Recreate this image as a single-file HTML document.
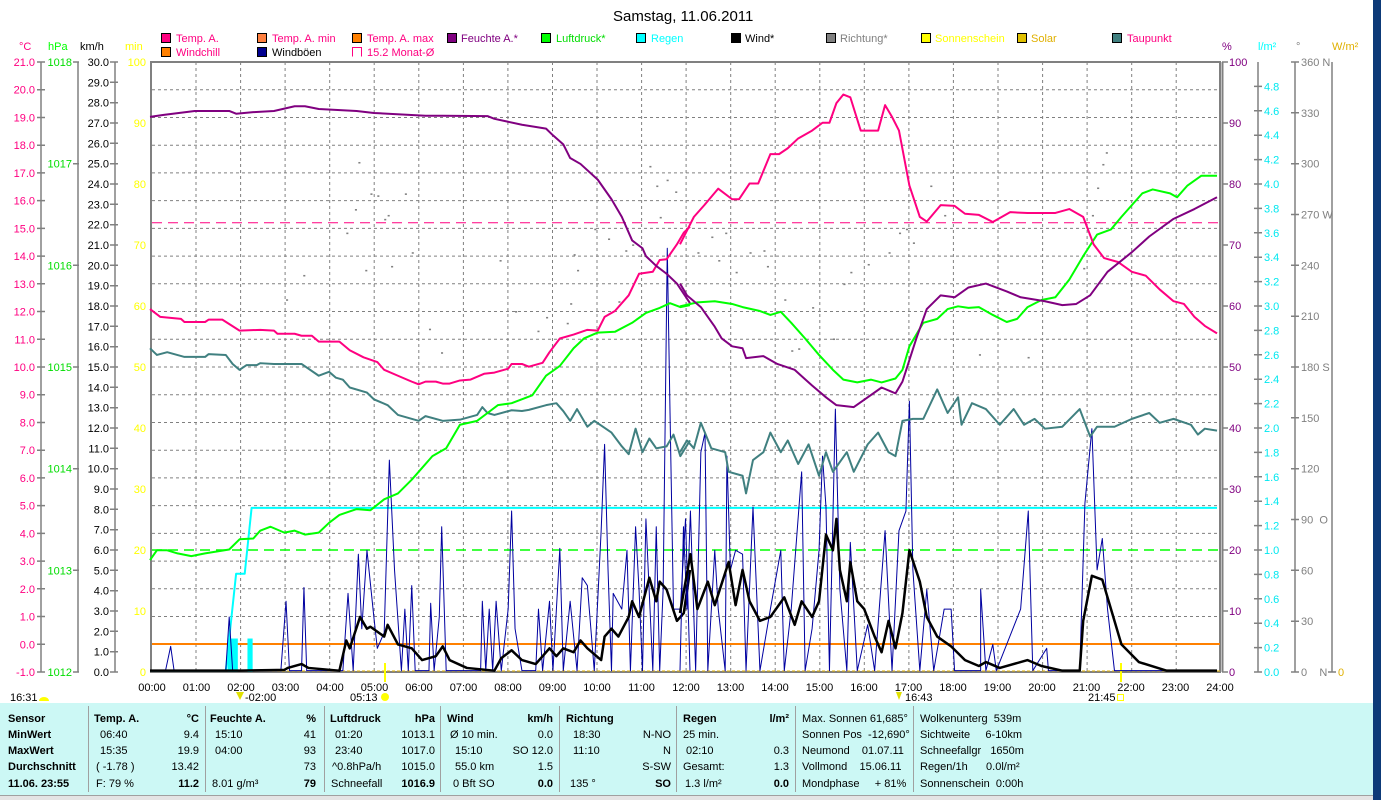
<!DOCTYPE html>
<html><head><meta charset="utf-8"><style>
html,body{margin:0;padding:0;background:#fff;}
svg{display:block;font-family:"Liberation Sans",sans-serif;}
</style></head><body>
<svg width="1381" height="800" viewBox="0 0 1381 800" xmlns="http://www.w3.org/2000/svg">
<rect x="0" y="0" width="1381" height="800" fill="#fff"/>
<rect x="1373" y="0" width="8" height="800" fill="#0d3a78"/>
<text x="613" y="21" font-size="15" fill="#000">Samstag, 11.06.2011</text>

<!-- legend -->
<g font-size="11">
<rect x="161.5" y="33.5" width="9" height="9" fill="#ff0080" stroke="#000"/><text x="176" y="42" fill="#ff0080">Temp. A.</text>
<rect x="257.5" y="33.5" width="9" height="9" fill="#ff8040" stroke="#000"/><text x="272" y="42" fill="#ff0080">Temp. A. min</text>
<rect x="352.5" y="33.5" width="9" height="9" fill="#ff8000" stroke="#000"/><text x="367" y="42" fill="#ff0080">Temp. A. max</text>
<rect x="447.5" y="33.5" width="9" height="9" fill="#800080" stroke="#000"/><text x="461" y="42" fill="#800080">Feuchte A.*</text>
<rect x="541.5" y="33.5" width="9" height="9" fill="#00ff00" stroke="#000"/><text x="556" y="42" fill="#00dd00">Luftdruck*</text>
<rect x="636.5" y="33.5" width="9" height="9" fill="#00ffff" stroke="#000"/><text x="651" y="42" fill="#00ffff">Regen</text>
<rect x="731.5" y="33.5" width="9" height="9" fill="#000" stroke="#000"/><text x="745" y="42" fill="#000">Wind*</text>
<rect x="826.5" y="33.5" width="9" height="9" fill="#808080" stroke="#000"/><text x="840" y="42" fill="#808080">Richtung*</text>
<rect x="921.5" y="33.5" width="9" height="9" fill="#ffff00" stroke="#000"/><text x="935" y="42" fill="#ffff00">Sonnenschein</text>
<rect x="1017.5" y="33.5" width="9" height="9" fill="#e0c000" stroke="#000"/><text x="1031" y="42" fill="#e0b000">Solar</text>
<rect x="1112.5" y="33.5" width="9" height="9" fill="#408080" stroke="#000"/><text x="1127" y="42" fill="#ff0080">Taupunkt</text>
<rect x="161.5" y="47.5" width="9" height="9" fill="#ff8000" stroke="#000"/><text x="176" y="56" fill="#ff0080">Windchill</text>
<rect x="257.5" y="47.5" width="9" height="9" fill="#000090" stroke="#000"/><text x="272" y="56" fill="#000">Windböen</text>
<path d="M352.5 56.5 V47.5 H361.5 V56.5" fill="none" stroke="#ff0080"/><text x="367" y="56" fill="#ff0080">15.2 Monat-Ø</text>
</g>

<!-- axis headers -->
<g font-size="11">
<text x="19" y="50" fill="#ff0080">°C</text>
<text x="48" y="50" fill="#00ff00">hPa</text>
<text x="80" y="50" fill="#000">km/h</text>
<text x="125" y="50" fill="#ffff00">min</text>
<text x="1222" y="50" fill="#800080">%</text>
<text x="1258" y="50" fill="#00ffff">l/m²</text>
<text x="1296" y="50" fill="#808080">°</text>
<text x="1332" y="50" fill="#e0b000">W/m²</text>
</g>

<!-- grid -->
<g stroke="#808080" stroke-width="1" stroke-dasharray="3,3">
<path d="M152 89.7H1220M152 117.5H1220M152 145.2H1220M152 172.9H1220M152 200.6H1220M152 228.4H1220M152 256.1H1220M152 283.8H1220M152 311.5H1220M152 339.3H1220M152 367H1220M152 394.7H1220M152 422.5H1220M152 450.2H1220M152 477.9H1220M152 505.6H1220M152 533.4H1220M152 561.1H1220M152 588.8H1220M152 616.5H1220M152 644.3H1220"/>
<path d="M196 62V672M240.6 62V672M285.1 62V672M329.7 62V672M374.2 62V672M418.8 62V672M463.4 62V672M507.9 62V672M552.5 62V672M597 62V672M641.6 62V672M686.1 62V672M730.7 62V672M775.2 62V672M819.8 62V672M864.3 62V672M908.9 62V672M953.4 62V672M998 62V672M1042.6 62V672M1087.1 62V672M1131.7 62V672M1176.2 62V672"/>
</g>
<!-- plot border -->
<rect x="151" y="62" width="1069" height="610" fill="none" stroke="#808080" stroke-width="2"/>
<line x1="1222.5" y1="62" x2="1222.5" y2="672" stroke="#808080" stroke-width="2"/>

<!-- reference lines -->
<line x1="152" y1="222.8" x2="1220" y2="222.8" stroke="#ff0080" stroke-dasharray="10,6"/>
<line x1="152" y1="550" x2="1220" y2="550" stroke="#00ff00" stroke-width="1.5" stroke-dasharray="10,6"/>
<line x1="152" y1="644" x2="1220" y2="644" stroke="#ff8000" stroke-width="2"/>
<line x1="152" y1="671" x2="1220" y2="671" stroke="#e0b000" stroke-width="1" stroke-dasharray="3,2"/>

<!-- left axes -->
<g stroke="#808080" stroke-width="1.5" fill="none">
<path d="M41 62V672M78 62V672M115 62V672"/>
<path d="M37 62H45M37 89.7H45M37 117.5H45M37 145.2H45M37 172.9H45M37 200.6H45M37 228.4H45M37 256.1H45M37 283.8H45M37 311.5H45M37 339.3H45M37 367H45M37 394.7H45M37 422.5H45M37 450.2H45M37 477.9H45M37 505.6H45M37 533.4H45M37 561.1H45M37 588.8H45M37 616.5H45M37 644.3H45M37 672H45"/>
<path d="M73 62H79M73 163.7H79M73 265.3H79M73 367H79M73 468.7H79M73 570.3H79M73 672H79"/>
<path d="M110 62H118M110 82.3H118M110 102.7H118M110 123H118M110 143.3H118M110 163.7H118M110 184H118M110 204.3H118M110 224.7H118M110 245H118M110 265.3H118M110 285.7H118M110 306H118M110 326.3H118M110 346.7H118M110 367H118M110 387.3H118M110 407.7H118M110 428H118M110 448.3H118M110 468.7H118M110 489H118M110 509.3H118M110 529.7H118M110 550H118M110 570.3H118M110 590.7H118M110 611H118M110 631.3H118M110 651.7H118M110 672H118"/>
</g>
<g font-size="11" fill="#ff0080" text-anchor="end">
<text x="35" y="66">21.0</text><text x="35" y="93.7">20.0</text><text x="35" y="121.5">19.0</text><text x="35" y="149.2">18.0</text><text x="35" y="176.9">17.0</text><text x="35" y="204.6">16.0</text><text x="35" y="232.4">15.0</text><text x="35" y="260.1">14.0</text><text x="35" y="287.8">13.0</text><text x="35" y="315.5">12.0</text><text x="35" y="343.3">11.0</text><text x="35" y="371">10.0</text><text x="35" y="398.7">9.0</text><text x="35" y="426.5">8.0</text><text x="35" y="454.2">7.0</text><text x="35" y="481.9">6.0</text><text x="35" y="509.6">5.0</text><text x="35" y="537.4">4.0</text><text x="35" y="565.1">3.0</text><text x="35" y="592.8">2.0</text><text x="35" y="620.5">1.0</text><text x="35" y="648.3">0.0</text><text x="35" y="676">-1.0</text>
</g>
<g font-size="11" fill="#00dd00" text-anchor="end">
<text x="72" y="66">1018</text><text x="72" y="167.7">1017</text><text x="72" y="269.3">1016</text><text x="72" y="371">1015</text><text x="72" y="472.7">1014</text><text x="72" y="574.3">1013</text><text x="72" y="676">1012</text>
</g>
<g font-size="11" fill="#000" text-anchor="end">
<text x="109" y="66">30.0</text><text x="109" y="86.3">29.0</text><text x="109" y="106.7">28.0</text><text x="109" y="127">27.0</text><text x="109" y="147.3">26.0</text><text x="109" y="167.7">25.0</text><text x="109" y="188">24.0</text><text x="109" y="208.3">23.0</text><text x="109" y="228.7">22.0</text><text x="109" y="249">21.0</text><text x="109" y="269.3">20.0</text><text x="109" y="289.7">19.0</text><text x="109" y="310">18.0</text><text x="109" y="330.3">17.0</text><text x="109" y="350.7">16.0</text><text x="109" y="371">15.0</text><text x="109" y="391.3">14.0</text><text x="109" y="411.7">13.0</text><text x="109" y="432">12.0</text><text x="109" y="452.3">11.0</text><text x="109" y="472.7">10.0</text><text x="109" y="493">9.0</text><text x="109" y="513.3">8.0</text><text x="109" y="533.7">7.0</text><text x="109" y="554">6.0</text><text x="109" y="574.3">5.0</text><text x="109" y="594.7">4.0</text><text x="109" y="615">3.0</text><text x="109" y="635.3">2.0</text><text x="109" y="655.7">1.0</text><text x="109" y="676">0.0</text>
</g>
<g font-size="11" fill="#ffff00" text-anchor="end">
<text x="146" y="66">100</text><text x="146" y="127">90</text><text x="146" y="188">80</text><text x="146" y="249">70</text><text x="146" y="310">60</text><text x="146" y="371">50</text><text x="146" y="432">40</text><text x="146" y="493">30</text><text x="146" y="554">20</text><text x="146" y="615">10</text><text x="146" y="676">0</text>
</g>

<!-- right axes -->
<g stroke="#808080" stroke-width="1.5" fill="none">
<path d="M1222 62H1228M1222 123H1228M1222 184H1228M1222 245H1228M1222 306H1228M1222 367H1228M1222 428H1228M1222 489H1228M1222 550H1228M1222 611H1228M1222 672H1228"/>
<path d="M1258 62V672M1295 62V672M1332 62V672"/>
<path d="M1254 86.4H1262M1254 110.8H1262M1254 135.2H1262M1254 159.6H1262M1254 184H1262M1254 208.4H1262M1254 232.8H1262M1254 257.2H1262M1254 281.6H1262M1254 306H1262M1254 330.4H1262M1254 354.8H1262M1254 379.2H1262M1254 403.6H1262M1254 428H1262M1254 452.4H1262M1254 476.8H1262M1254 501.2H1262M1254 525.6H1262M1254 550H1262M1254 574.4H1262M1254 598.8H1262M1254 623.2H1262M1254 647.6H1262M1254 672H1262"/>
<path d="M1291 62H1299M1291 112.8H1299M1291 163.7H1299M1291 214.5H1299M1291 265.3H1299M1291 316.2H1299M1291 367H1299M1291 417.8H1299M1291 468.7H1299M1291 519.5H1299M1291 570.3H1299M1291 621.2H1299M1291 672H1299"/>
<path d="M1328 672H1336"/>
</g>
<g font-size="11" fill="#800080">
<text x="1229" y="66">100</text><text x="1229" y="127">90</text><text x="1229" y="188">80</text><text x="1229" y="249">70</text><text x="1229" y="310">60</text><text x="1229" y="371">50</text><text x="1229" y="432">40</text><text x="1229" y="493">30</text><text x="1229" y="554">20</text><text x="1229" y="615">10</text><text x="1229" y="676">0</text>
</g>
<g font-size="11" fill="#00e8f0">
<text x="1264" y="90.4">4.8</text><text x="1264" y="114.8">4.6</text><text x="1264" y="139.2">4.4</text><text x="1264" y="163.6">4.2</text><text x="1264" y="188">4.0</text><text x="1264" y="212.4">3.8</text><text x="1264" y="236.8">3.6</text><text x="1264" y="261.2">3.4</text><text x="1264" y="285.6">3.2</text><text x="1264" y="310">3.0</text><text x="1264" y="334.4">2.8</text><text x="1264" y="358.8">2.6</text><text x="1264" y="383.2">2.4</text><text x="1264" y="407.6">2.2</text><text x="1264" y="432">2.0</text><text x="1264" y="456.4">1.8</text><text x="1264" y="480.8">1.6</text><text x="1264" y="505.2">1.4</text><text x="1264" y="529.6">1.2</text><text x="1264" y="554">1.0</text><text x="1264" y="578.4">0.8</text><text x="1264" y="602.8">0.6</text><text x="1264" y="627.2">0.4</text><text x="1264" y="651.6">0.2</text><text x="1264" y="676">0.0</text>
</g>
<g font-size="11" fill="#808080">
<text x="1301" y="66">360 N</text><text x="1301" y="116.8">330</text><text x="1301" y="167.7">300</text><text x="1301" y="218.5">270 W</text><text x="1301" y="269.3">240</text><text x="1301" y="320.2">210</text><text x="1301" y="371">180 S</text><text x="1301" y="421.8">150</text><text x="1301" y="472.7">120</text><text x="1301" y="523.5">90&#160;&#160;O</text><text x="1301" y="574.3">60</text><text x="1301" y="625.2">30</text><text x="1301" y="676">0&#160;&#160;&#160;&#160;N</text>
</g>
<text x="1338" y="676" font-size="11" fill="#e0b000">0</text>

<!-- x axis labels -->
<g font-size="11" fill="#000" text-anchor="middle">
<text x="152" y="691">00:00</text><text x="196.5" y="691">01:00</text><text x="241" y="691">02:00</text><text x="285.5" y="691">03:00</text><text x="330" y="691">04:00</text><text x="374.5" y="691">05:00</text><text x="419" y="691">06:00</text><text x="463.5" y="691">07:00</text><text x="508" y="691">08:00</text><text x="552.5" y="691">09:00</text><text x="597" y="691">10:00</text><text x="641.5" y="691">11:00</text><text x="686" y="691">12:00</text><text x="730.5" y="691">13:00</text><text x="775" y="691">14:00</text><text x="819.5" y="691">15:00</text><text x="864" y="691">16:00</text><text x="908.5" y="691">17:00</text><text x="953" y="691">18:00</text><text x="997.5" y="691">19:00</text><text x="1042" y="691">20:00</text><text x="1086.5" y="691">21:00</text><text x="1131" y="691">22:00</text><text x="1175.5" y="691">23:00</text><text x="1220" y="691">24:00</text>
</g>
<g font-size="11" fill="#000">
<text x="10" y="701">16:31</text><path d="M39 701 a5 4 0 0 1 10 0z" fill="#ffff00"/>
<text x="245" y="701">-02:00</text><path d="M236 692 L244 692 L240 700z" fill="#e0e000"/>
<text x="350" y="701">05:13</text><circle cx="385" cy="697" r="4" fill="#ffff00"/>
<text x="905" y="701">16:43</text><path d="M896 692 L902 692 L899 700z" fill="#e0e000"/>
<text x="1088" y="701">21:45</text><rect x="1117.5" y="694.5" width="6" height="6" fill="none" stroke="#ffff00"/>
</g>
<line x1="385" y1="663" x2="385" y2="682" stroke="#ffff00" stroke-width="2"/>
<line x1="1121" y1="663" x2="1121" y2="682" stroke="#ffff00" stroke-width="2"/>

<!-- data: left half -->
<g transform="translate(150,60) scale(0.34439,0.39222)" fill="none" stroke-linejoin="round">
<g fill="#808080" stroke="none">
<rect x="605" y="260" width="6" height="4"/><rect x="640" y="340" width="6" height="4"/><rect x="660" y="345" width="6" height="4"/><rect x="595" y="380" width="6" height="4"/><rect x="690" y="395" width="6" height="4"/><rect x="570" y="440" width="6" height="4"/><rect x="740" y="340" width="6" height="4"/><rect x="680" y="405" width="6" height="4"/><rect x="625" y="535" width="6" height="4"/><rect x="445" y="548" width="6" height="4"/><rect x="700" y="525" width="6" height="4"/><rect x="760" y="490" width="6" height="4"/><rect x="1015" y="510" width="6" height="4"/><rect x="1060" y="640" width="6" height="4"/><rect x="1230" y="495" width="6" height="4"/><rect x="1240" y="535" width="6" height="4"/><rect x="1210" y="670" width="6" height="4"/><rect x="1360" y="615" width="6" height="4"/><rect x="1450" y="270" width="6" height="4"/><rect x="1500" y="305" width="6" height="4"/><rect x="1525" y="335" width="6" height="4"/><rect x="1470" y="320" width="6" height="4"/><rect x="1480" y="400" width="6" height="4"/><rect x="1400" y="470" width="6" height="4"/><rect x="1330" y="455" width="6" height="4"/><rect x="1290" y="430" width="6" height="4"/><rect x="810" y="685" width="6" height="4"/><rect x="845" y="745" width="6" height="4"/><rect x="1125" y="690" width="6" height="4"/><rect x="1150" y="655" width="6" height="4"/><rect x="1220" y="620" width="6" height="4"/><rect x="395" y="610" width="6" height="4"/><rect x="1380" y="485" width="6" height="4"/>
</g>
<rect x="225" y="1475" width="30" height="85" fill="#00ffff"/><rect x="283" y="1475" width="15" height="85" fill="#00ffff"/>
<polyline vector-effect="non-scaling-stroke" stroke="#00ffff" stroke-width="2" points="0,1557 220,1557 250,1310 275,1310 295,1142 1568,1142"/>
<polyline vector-effect="non-scaling-stroke" stroke="#0000a0" stroke-width="1" points="0,1557 45,1557 60,1495 70,1557 220,1557 230,1420 240,1557 380,1557 395,1380 405,1557 440,1557 447,1345 455,1557 560,1557 575,1360 590,1557 605,1260 615,1450 630,1250 650,1420 660,1500 680,1460 695,1020 710,1300 730,1557 740,1400 750,1557 760,1340 770,1557 810,1557 815,1385 825,1557 840,1420 847,1190 860,1557 960,1557 965,1380 975,1557 985,1400 995,1557 1005,1380 1020,1557 1040,1400 1050,1150 1060,1450 1080,1557 1120,1557 1128,1400 1140,1557 1160,1380 1170,1557 1190,1245 1200,1557 1220,1380 1240,1557 1255,1320 1270,1340 1290,1557 1310,1200 1320,980 1330,1300 1340,1557 1345,1360 1370,1400 1385,1250 1395,1557 1410,1190 1420,1350 1430,1557 1440,1170 1460,1557 1470,1190 1480,1557 1490,1350 1502,480 1510,900 1520,1400 1540,1400 1555,1170 1568,1557"/>
<polyline vector-effect="non-scaling-stroke" stroke="#000" stroke-width="2.5" points="0,1557 260,1557 390,1555 400,1550 440,1540 460,1550 550,1557 570,1480 580,1500 610,1420 630,1450 640,1445 680,1470 690,1440 720,1490 760,1500 790,1530 830,1520 850,1495 870,1530 920,1550 1000,1557 1020,1525 1050,1505 1080,1530 1120,1540 1160,1500 1180,1520 1200,1500 1230,1510 1250,1480 1270,1500 1310,1530 1320,1470 1340,1450 1360,1470 1390,1420 1400,1380 1420,1420 1450,1320 1470,1380 1480,1330 1500,1350 1530,1430 1550,1410 1568,1300"/>
<polyline vector-effect="non-scaling-stroke" stroke="#408080" stroke-width="2" points="0,735 20,752 50,745 100,757 160,757 170,750 220,752 240,775 260,790 280,778 310,778 320,773 360,775 440,775 490,805 520,795 540,810 560,815 580,835 630,848 650,865 690,880 720,905 780,920 800,908 850,920 900,917 950,905 965,885 980,900 1000,905 1050,893 1080,895 1100,892 1150,880 1180,875 1200,895 1220,920 1240,890 1270,935 1290,920 1340,950 1370,985 1390,1005 1410,940 1430,1000 1450,965 1470,990 1500,985 1520,955 1540,1010 1568,970"/>
<polyline vector-effect="non-scaling-stroke" stroke="#00ff00" stroke-width="2" points="0,1275 20,1250 50,1250 80,1258 120,1265 160,1258 230,1248 260,1222 300,1220 320,1200 350,1190 390,1205 420,1200 450,1210 490,1205 520,1180 550,1160 600,1145 640,1148 680,1120 720,1105 760,1070 790,1040 820,1010 860,990 900,930 950,920 980,900 1010,880 1050,875 1110,855 1150,805 1190,780 1230,735 1260,710 1300,695 1350,693 1400,670 1440,645 1480,632 1510,620 1540,630 1568,625"/>
<polyline vector-effect="non-scaling-stroke" stroke="#ff0080" stroke-width="2" points="0,635 30,655 90,660 100,668 160,668 170,662 210,662 260,690 320,688 360,690 370,698 420,698 440,703 470,703 490,718 550,718 580,740 620,758 660,770 680,790 720,805 760,820 780,827 800,820 830,820 850,825 870,825 900,817 930,815 970,800 1000,797 1040,787 1050,775 1080,775 1100,782 1140,772 1160,745 1190,710 1230,700 1270,688 1300,690 1320,655 1350,640 1390,600 1420,545 1460,540 1480,510 1500,508 1530,470 1550,440 1568,425"/>
<polyline vector-effect="non-scaling-stroke" stroke="#800080" stroke-width="2" points="0,145 40,140 130,130 230,130 250,137 300,133 360,130 420,118 450,118 490,125 600,130 650,135 800,142 850,142 980,143 1000,150 1080,165 1150,175 1170,192 1200,215 1220,250 1250,265 1300,305 1340,355 1370,400 1400,460 1430,480 1440,500 1470,525 1500,545 1530,570 1568,620"/>
</g>

<!-- data: right half -->
<g transform="translate(680,60) scale(0.34758,0.39222)" fill="none" stroke-linejoin="round">
<g fill="#808080" stroke="none">
<rect x="90" y="450" width="6" height="4"/><rect x="50" y="490" width="6" height="4"/><rect x="110" y="510" width="6" height="4"/><rect x="200" y="490" width="6" height="4"/><rect x="240" y="485" width="6" height="4"/><rect x="250" y="525" width="6" height="4"/><rect x="160" y="540" width="6" height="4"/><rect x="300" y="610" width="6" height="4"/><rect x="380" y="630" width="6" height="4"/><rect x="470" y="570" width="6" height="4"/><rect x="490" y="540" width="6" height="4"/><rect x="540" y="520" width="6" height="4"/><rect x="600" y="490" width="6" height="4"/><rect x="650" y="430" width="6" height="4"/><rect x="720" y="320" width="6" height="4"/><rect x="760" y="395" width="6" height="4"/><rect x="860" y="750" width="6" height="4"/><rect x="1000" y="757" width="6" height="4"/><rect x="1200" y="325" width="6" height="4"/><rect x="1215" y="265" width="6" height="4"/><rect x="1225" y="235" width="6" height="4"/><rect x="1185" y="395" width="6" height="4"/><rect x="440" y="710" width="6" height="4"/><rect x="320" y="740" width="6" height="4"/><rect x="340" y="735" width="6" height="4"/><rect x="130" y="440" width="6" height="4"/><rect x="630" y="440" width="6" height="4"/><rect x="670" y="465" width="6" height="4"/><rect x="1160" y="530" width="6" height="4"/>
</g>
<polyline vector-effect="non-scaling-stroke" stroke="#00ffff" stroke-width="2" points="0,1142 1545,1142"/>
<polyline vector-effect="non-scaling-stroke" stroke="#0000a0" stroke-width="1" points="0,1557 10,1190 20,1400 30,1150 45,1557 60,1000 72,950 80,1557 100,1250 110,1400 130,1557 135,1010 145,1300 160,1250 180,1260 190,1557 210,1140 230,1557 260,1400 290,1250 300,1557 320,1400 350,1050 360,1557 380,1450 400,1250 410,1010 420,1140 430,1557 447,890 460,1350 480,1557 490,1230 510,1557 540,1440 560,1557 590,1200 610,1557 630,1200 650,1150 660,870 670,1300 690,1557 710,1350 730,1557 760,1400 780,1400 790,1557 865,1557 865,1350 880,1557 900,1490 910,1557 980,1400 1002,1150 1015,1557 1055,1500 1060,1557 1150,1557 1165,1130 1185,940 1200,1300 1215,1220 1230,1400 1250,1557 1545,1557"/>
<polyline vector-effect="non-scaling-stroke" stroke="#000" stroke-width="2.5" points="0,1410 30,1260 50,1400 80,1330 100,1390 140,1280 160,1390 180,1300 200,1380 230,1430 260,1420 300,1370 330,1440 350,1380 380,1420 400,1380 420,1210 440,1250 450,1170 460,1300 480,1380 490,1280 510,1380 530,1400 560,1470 580,1510 600,1430 620,1500 640,1410 660,1250 690,1330 710,1420 740,1470 780,1495 820,1530 860,1545 880,1535 920,1550 1000,1530 1040,1545 1100,1557 1150,1557 1160,1430 1185,1315 1215,1325 1240,1400 1270,1490 1320,1535 1400,1557 1545,1557"/>
<polyline vector-effect="non-scaling-stroke" stroke="#408080" stroke-width="2" points="0,1000 20,970 40,990 60,925 90,990 130,1000 140,1050 180,1060 190,1105 210,1020 240,1000 260,950 290,1000 310,970 340,1030 370,980 400,1060 420,1000 440,1050 480,1000 500,1050 540,980 570,950 600,1000 620,1010 640,920 670,915 700,915 740,840 770,900 800,860 810,930 840,875 880,890 920,930 960,890 990,930 1020,915 1050,940 1100,935 1150,890 1180,960 1200,935 1250,935 1300,915 1350,900 1380,925 1420,915 1470,930 1490,955 1510,940 1545,945"/>
<polyline vector-effect="non-scaling-stroke" stroke="#00ff00" stroke-width="2" points="0,628 50,618 100,615 150,622 180,630 230,640 260,650 290,642 320,670 360,710 400,752 440,790 470,815 510,822 550,815 580,822 620,812 640,790 660,730 700,670 740,660 770,635 800,628 830,632 860,630 900,650 940,668 970,660 1000,630 1040,612 1080,605 1120,560 1160,500 1200,445 1240,432 1270,400 1300,370 1330,340 1360,330 1410,340 1430,350 1460,320 1500,295 1545,295"/>
<polyline vector-effect="non-scaling-stroke" stroke="#ff0080" stroke-width="2" points="0,470 40,400 70,370 110,328 150,355 170,355 200,315 225,315 260,240 285,240 310,225 340,200 380,180 410,160 430,160 450,110 470,88 490,95 520,180 570,180 590,115 610,145 630,180 660,320 690,400 710,412 750,370 790,372 820,392 860,395 900,413 950,388 1000,390 1080,390 1120,380 1160,400 1190,470 1220,505 1260,515 1300,540 1340,550 1380,585 1420,615 1450,622 1480,655 1510,678 1545,697"/>
<polyline vector-effect="non-scaling-stroke" stroke="#800080" stroke-width="2" points="0,570 20,600 60,630 100,680 120,710 150,730 180,735 190,760 240,755 280,775 330,790 380,830 420,860 450,880 500,885 540,860 580,835 620,850 640,820 680,710 710,635 750,600 790,605 830,580 880,570 940,590 980,605 1050,615 1100,625 1140,622 1180,600 1230,540 1300,490 1350,450 1420,405 1480,380 1545,350"/>
</g>

<!-- bottom table -->
<rect x="0" y="703" width="1373" height="93" fill="#ccf8f5"/>
<line x1="0" y1="795.5" x2="1373" y2="795.5" stroke="#a0a0a0"/>
<rect x="0" y="796" width="1373" height="4" fill="#e4e4e4"/>
<g stroke="#a0a0a0" stroke-width="1">
<path d="M88.5 706V792M205.5 706V792M324.5 706V792M440.5 706V792M559.5 706V792M676.5 706V792M795.5 706V792M913.5 706V792"/>
</g>
<g font-size="11" fill="#000" font-weight="bold">
<text x="8" y="722">Sensor</text><text x="8" y="738">MinWert</text><text x="8" y="754">MaxWert</text><text x="8" y="770">Durchschnitt</text><text x="8" y="787">11.06. 23:55</text>
<text x="94" y="722">Temp. A.</text><text x="210" y="722">Feuchte A.</text><text x="330" y="722">Luftdruck</text><text x="447" y="722">Wind</text><text x="566" y="722">Richtung</text><text x="683" y="722">Regen</text>
</g>
<g font-size="11" fill="#000" font-weight="bold" text-anchor="end">
<text x="199" y="722">°C</text><text x="316" y="722">%</text><text x="435" y="722">hPa</text><text x="553" y="722">km/h</text><text x="789" y="722">l/m²</text>
<text x="199" y="787">11.2</text><text x="316" y="787">79</text><text x="435" y="787">1016.9</text><text x="553" y="787">0.0</text><text x="671" y="787">SO</text><text x="789" y="787">0.0</text>
</g>
<g font-size="11" fill="#000">
<text x="100" y="738">06:40</text><text x="100" y="754">15:35</text><text x="96" y="770">( -1.78 )</text><text x="96" y="787">F: 79 %</text>
<text x="215" y="738">15:10</text><text x="215" y="754">04:00</text><text x="212" y="787">8.01 g/m³</text>
<text x="335" y="738">01:20</text><text x="335" y="754">23:40</text><text x="332" y="770">^0.8hPa/h</text><text x="331" y="787">Schneefall</text>
<text x="450" y="738">Ø 10 min.</text><text x="455" y="754">15:10</text><text x="455" y="770">55.0 km</text><text x="453" y="787">0 Bft SO</text>
<text x="573" y="738">18:30</text><text x="573" y="754">11:10</text><text x="570" y="787">135 °</text>
<text x="683" y="738">25 min.</text><text x="686" y="754">02:10</text><text x="683" y="770">Gesamt:</text><text x="685" y="787">1.3 l/m²</text>
<text x="802" y="722">Max. Sonnen 61,685°</text><text x="802" y="738">Sonnen Pos&#160; -12,690°</text><text x="802" y="754">Neumond&#160;&#160;&#160; 01.07.11</text><text x="802" y="770">Vollmond&#160;&#160;&#160; 15.06.11</text><text x="802" y="787">Mondphase&#160;&#160;&#160;&#160; + 81%</text>
<text x="920" y="722">Wolkenunterg&#160; 539m</text><text x="920" y="738">Sichtweite&#160;&#160;&#160;&#160; 6-10km</text><text x="920" y="754">Schneefallgr&#160;&#160; 1650m</text><text x="920" y="770">Regen/1h&#160;&#160;&#160;&#160;&#160; 0.0l/m²</text><text x="920" y="787">Sonnenschein&#160; 0:00h</text>
</g>
<g font-size="11" fill="#000" text-anchor="end">
<text x="199" y="738">9.4</text><text x="199" y="754">19.9</text><text x="199" y="770">13.42</text>
<text x="316" y="738">41</text><text x="316" y="754">93</text><text x="316" y="770">73</text>
<text x="435" y="738">1013.1</text><text x="435" y="754">1017.0</text><text x="435" y="770">1015.0</text>
<text x="553" y="738">0.0</text><text x="553" y="754">SO 12.0</text><text x="553" y="770">1.5</text>
<text x="671" y="738">N-NO</text><text x="671" y="754">N</text><text x="671" y="770">S-SW</text>
<text x="789" y="754">0.3</text><text x="789" y="770">1.3</text>
</g>
</svg>
</body></html>
